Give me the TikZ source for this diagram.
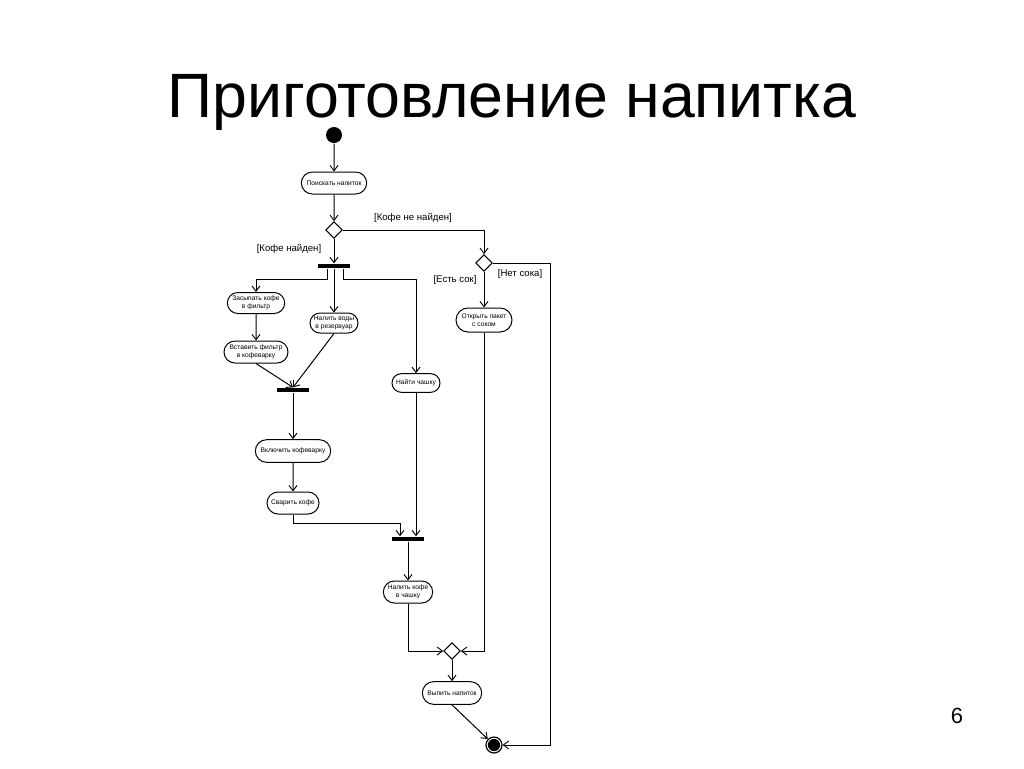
\documentclass[tikz,border=0pt]{standalone}
\usepackage{fontspec}
\setmainfont{Liberation Sans}
\usetikzlibrary{arrows.meta,shapes.geometric,shapes.misc}
\begin{document}
\begin{tikzpicture}[x=0.75pt,y=-0.75pt,
  line width=0.75pt,
  arr/.style={-{Straight Barb[length=4pt,width=6pt,line width=0.7pt]}},
  act/.style={draw, rounded rectangle, inner sep=1pt, align=center,
    font=\fontsize{5}{6}\selectfont},
  dec/.style={draw, diamond, aspect=1, inner sep=0pt, minimum width=12.5pt, minimum height=12.5pt},
  bar/.style={fill=black, draw=none, inner sep=0pt, minimum width=24.5pt, minimum height=3.2pt},
  guard/.style={font=\fontsize{7.2}{8}\selectfont, inner sep=0pt}]
\useasboundingbox (0,0) rectangle (1024,768);
\fill[white] (0,0) rectangle (1024,768);
\node[font=\fontsize{47}{54}\selectfont, anchor=base, inner sep=0pt] (title) at (512,117) {Приготовление напитка};
\node[font=\fontsize{16.5}{18}\selectfont, anchor=base, inner sep=0pt] (pnum) at (957,723) {6};

\node[circle, fill=black, inner sep=0pt, minimum size=12pt] (start) at (334,135) {};
\node[act, minimum width=51pt, minimum height=16.5pt] (search) at (334,183) {Поискать напиток};
\node[dec] (d1) at (334,230) {};
\node[dec] (d2) at (484,263) {};
\node[bar] (f1) at (334,266) {};
\node[act, minimum width=45pt, minimum height=15.75pt] (zas) at (256,303) {Засыпать кофе\\в фильтр};
\node[act, minimum width=50pt, minimum height=16.5pt] (vst) at (256,352) {Вставить фильтр\\в кофеварку};
\node[act, minimum width=38pt, minimum height=15pt] (nal) at (334,323) {Налить воды\\в резервуар};
\node[bar] (f2) at (293,390) {};
\node[act, minimum width=38pt, minimum height=14pt] (cup) at (416,383) {Найти чашку};
\node[act, minimum width=44pt, minimum height=18pt] (juice) at (484,320) {Открыть пакет\\с соком};
\node[act, minimum width=58.5pt, minimum height=17pt] (vkl) at (293,451) {Включить кофеварку};
\node[act, minimum width=41pt, minimum height=16.5pt] (svar) at (293,503) {Сварить кофе};
\node[bar] (f3) at (408,539) {};
\node[act, minimum width=39pt, minimum height=16.5pt] (nalk) at (408,592) {Налить кофе\\в чашку};
\node[dec] (d3) at (452,651) {};
\node[act, minimum width=46.5pt, minimum height=17pt] (drink) at (452,693) {Выпить напиток};
\node[circle, draw=black, line width=0.9pt, inner sep=0pt, minimum size=12pt] (final) at (494,745) {};
\fill[black] (final.center) circle (4.6pt);

\node[guard] (g1) at (413,218) {[Кофе не найден]};
\node[guard] (g2) at (289,249) {[Кофе найден]};
\node[guard] (g3) at (455,280) {[Есть сок]};
\node[guard] (g4) at (520,274) {[Нет сока]};

\draw[arr] (start) -- (search);
\draw[arr] (search) -- (d1);
\draw[arr] (d1.east) -| (d2.north);
\draw[arr] (d1.south) -- (f1.north);
\draw[arr] ([xshift=-5.25pt]f1.south) -- ++(0,11) -| (zas.north);
\draw[arr] (f1.south) -- (nal.north);
\draw[arr] ([xshift=6.75pt]f1.south) -- ++(0,11) -| (cup.north);
\draw[arr] (zas) -- (vst);
\draw[arr] (vst.south) -- (f2.north);
\draw[arr] (nal.south) -- (f2.north);
\draw[arr] (f2.south) -- (vkl.north);
\draw[arr] (vkl) -- (svar);
\draw[arr] (svar.south) -- ++(0,9) -| ([xshift=-6pt]f3.north);
\draw[arr] (cup.south) -- (cup.south |- f3.north);
\draw[arr] (f3.south) -- (nalk.north);
\draw[arr] (nalk.south) |- (d3.west);
\draw[arr] (d2.south) -- (juice.north);
\draw[arr] (juice.south) |- (d3.east);
\draw[arr] (d3.south) -- (drink.north);
\draw[arr] (drink.south) -- (final);
\draw[arr] (d2.east) -- ++(58,0) |- (final.east);
\end{tikzpicture}
\end{document}
